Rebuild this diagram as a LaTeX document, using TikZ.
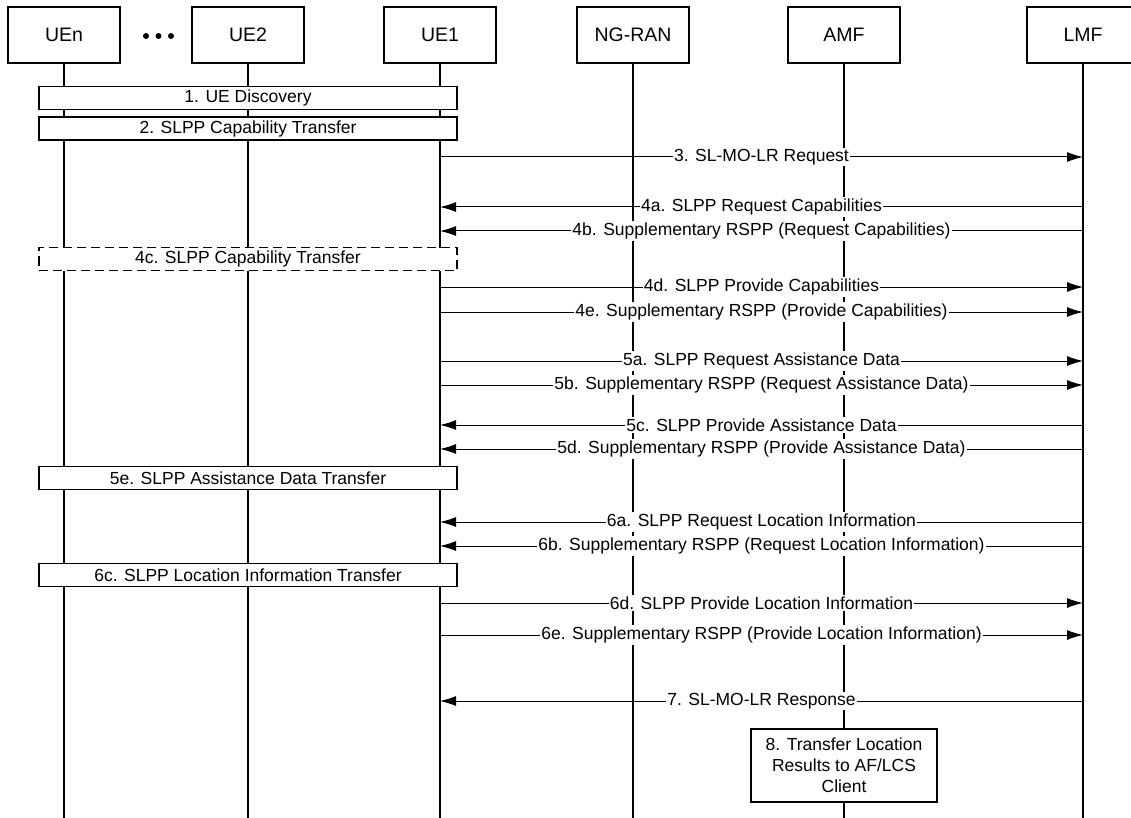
\documentclass[tikz,border=0pt]{standalone}
\usepackage{fontspec}
\setmainfont{Liberation Sans}
\usetikzlibrary{positioning,arrows.meta}

\tikzset{
  entity/.style={draw, line width=1.3pt, fill=white, minimum width=112pt, minimum height=56pt, inner sep=0pt, outer sep=0pt, font=\fontsize{19.5}{22}\selectfont},
  life/.style={line width=1.5pt},
  group/.style={draw, line width=1.3pt, fill=white, minimum width=418pt, minimum height=23pt, inner sep=0pt, font=\fontsize{17.5}{21}\selectfont},
  msg/.style={line width=1pt},
  lbl/.style={fill=white, inner xsep=1pt, inner ysep=1.5pt, font=\fontsize{17.5}{21}\selectfont},
  dot/.style={circle, fill=black, minimum size=6pt, inner sep=0pt, outer sep=0pt}
}

\begin{document}
\begin{tikzpicture}[x=1pt, y=-1pt, >={Latex[length=16pt,width=10pt]}]
        \clip (0,0) rectangle (1131,818);
        \fill[white] (0,0) rectangle (1131,818);
        \coordinate (bottom) at (0,818);
        % entities
        \node [entity] (uen) at (64,35) {UEn};
        \node [entity, right=72pt of uen] (ue2) {UE2};
        \node [entity, right=80pt of ue2] (ue1) {UE1};
        \node [entity, right=81pt of ue1] (ngran) {NG-RAN};
        \node [entity, right=99pt of ngran] (amf) {AMF};
        \node [entity, right=127pt of amf] (lmf) {LMF};
        \node [dot] (d1) at (146,36) {};
        \node [dot, right=6.5pt of d1] (d2) {};
        \node [dot, right=6.5pt of d2] (d3) {};
        % lifelines
        \foreach \n in {uen,ue2,ue1,ngran,amf,lmf}
            \draw [life] (\n.south) -- (\n.south |- bottom);
        % steps among the UEs
        \node [group] (g1) at (ue2 |- 0,98) {1. UE Discovery};
        \node [group] (g2) at (ue2 |- 0,128.5) {2. SLPP Capability Transfer};
        \node [group, dash pattern=on 9pt off 5pt] (g4c) at (ue2 |- 0,259) {4c. SLPP Capability Transfer};
        \node [group] (g5e) at (ue2 |- 0,478) {5e. SLPP Assistance Data Transfer};
        \node [group] (g6c) at (ue2 |- 0,575) {6c. SLPP Location Information Transfer};
        % messages
        \draw [msg, ->] (ue1 |- 0,157) -- node [lbl] {3. SL-MO-LR Request} (lmf |- 0,157);
        \draw [msg, <-] (ue1 |- 0,207) -- node [lbl] {4a. SLPP Request Capabilities} (lmf |- 0,207);
        \draw [msg, <-] (ue1 |- 0,231) -- node [lbl] {4b. Supplementary RSPP (Request Capabilities)} (lmf |- 0,231);
        \draw [msg, ->] (ue1 |- 0,287) -- node [lbl] {4d. SLPP Provide Capabilities} (lmf |- 0,287);
        \draw [msg, ->] (ue1 |- 0,312) -- node [lbl] {4e. Supplementary RSPP (Provide Capabilities)} (lmf |- 0,312);
        \draw [msg, ->] (ue1 |- 0,361) -- node [lbl] {5a. SLPP Request Assistance Data} (lmf |- 0,361);
        \draw [msg, ->] (ue1 |- 0,385) -- node [lbl] {5b. Supplementary RSPP (Request Assistance Data)} (lmf |- 0,385);
        \draw [msg, <-] (ue1 |- 0,425) -- node [lbl] {5c. SLPP Provide Assistance Data} (lmf |- 0,425);
        \draw [msg, <-] (ue1 |- 0,449) -- node [lbl] {5d. Supplementary RSPP (Provide Assistance Data)} (lmf |- 0,449);
        \draw [msg, <-] (ue1 |- 0,522) -- node [lbl] {6a. SLPP Request Location Information} (lmf |- 0,522);
        \draw [msg, <-] (ue1 |- 0,546) -- node [lbl] {6b. Supplementary RSPP (Request Location Information)} (lmf |- 0,546);
        \draw [msg, ->] (ue1 |- 0,603) -- node [lbl] {6d. SLPP Provide Location Information} (lmf |- 0,603);
        \draw [msg, ->] (ue1 |- 0,635) -- node [lbl] {6e. Supplementary RSPP (Provide Location Information)} (lmf |- 0,635);
        \draw [msg, <-] (ue1 |- 0,701) -- node [lbl] {7. SL-MO-LR Response} (lmf |- 0,701);
        % AMF step
        \node [group, minimum width=186pt, minimum height=73pt, align=center] (s8) at (amf |- 0,765.5) {8. Transfer Location\\Results to AF/LCS\\Client};
    \end{tikzpicture}
\end{document}
